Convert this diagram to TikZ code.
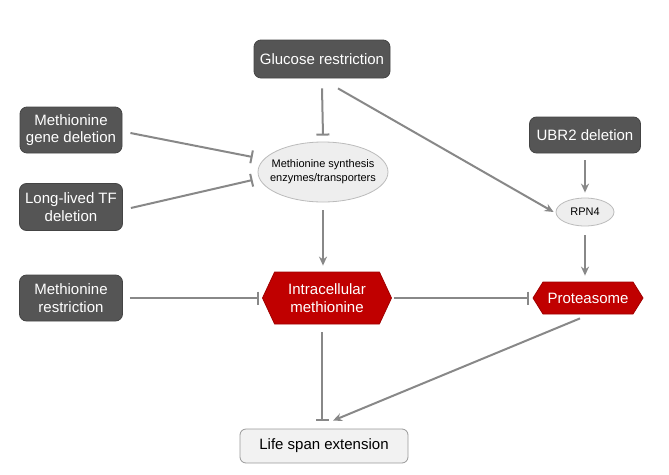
\documentclass[tikz,border=0pt]{standalone}
\usepackage{fontspec}
\setmainfont{Liberation Sans}
\usetikzlibrary{arrows.meta,shapes.geometric,shapes.symbols,calc}
\definecolor{darkbox}{HTML}{555555}
\definecolor{redbox}{HTML}{C00000}
\definecolor{redborder}{HTML}{A00000}
\definecolor{linegray}{HTML}{888888}
\definecolor{ellfill}{HTML}{EEEEEE}
\definecolor{ellborder}{HTML}{BBBBBB}
\definecolor{lsfill}{HTML}{F2F2F2}
\definecolor{lsborder}{HTML}{999999}
\tikzset{
  darknode/.style={draw=darkbox!80!black, line width=0.8pt, fill=darkbox, rounded corners=7pt, text=white,
    font=\fontsize{15}{17.5}\selectfont, align=center, inner sep=0pt},
  ellnode/.style={ellipse, draw=ellborder, line width=0.8pt, fill=ellfill, align=center, inner sep=0pt,
    font=\fontsize{11}{14}\selectfont},
  rednode/.style={signal, signal to=west and east, draw=redborder, line width=0.8pt, fill=redbox, text=white,
    align=center, inner sep=0pt, font=\fontsize{15}{17.5}\selectfont},
  lsnode/.style={draw=lsborder, line width=0.8pt, fill=lsfill, rounded corners=6pt, inner sep=0pt,
    font=\fontsize{15}{17.5}\selectfont},
  conn/.style={draw=linegray, line width=2pt},
  inhib/.style={conn, -{Bar[width=13pt,line width=2pt]}},
  activ/.style={conn, -{Stealth[length=9pt,width=8pt]}},
}
\begin{document}
\begin{tikzpicture}[x=1pt,y=-1pt]
\useasboundingbox (0,0) rectangle (669,474);
\node[darknode, minimum width=136pt, minimum height=38pt] (glu) at (322,59) {Glucose restriction};
\node[darknode, minimum width=102pt, minimum height=46pt] (mgd) at (71,130) {Methionine\\gene deletion};
\node[darknode, minimum width=103pt, minimum height=47pt] (ltf) at (71,207) {Long-lived TF\\deletion};
\node[darknode, minimum width=103pt, minimum height=46pt] (mr) at (71,298) {Methionine\\restriction};
\node[darknode, minimum width=111pt, minimum height=36pt] (ubr) at (585,135) {UBR2 deletion};
\node[ellnode, inner xsep=-8pt, minimum width=130pt, minimum height=60pt] (enz) at (323,172) {Methionine synthesis\\enzymes/transporters};
\node[ellnode, minimum width=58pt, minimum height=28pt] (rpn) at (585,212) {RPN4};
\node[rednode, minimum width=129pt, minimum height=52pt, signal pointer angle=130] (im) at (327,298) {Intracellular\\methionine};
\node[rednode, minimum width=110pt, minimum height=32pt, signal pointer angle=116] (pro) at (588,298) {Proteasome};
\node[lsnode, minimum width=168pt, minimum height=34pt] (ls) at (324,446) {Life span extension};

\draw[inhib] ($(glu.south)+(0,10)$) -- ($(enz.north)+(0,-6)$);
\draw[activ] ($(glu.south)+(16,10)$) -- ($(rpn.west)+(-2,0)$);
\draw[inhib] ($(mgd.east)+(8,3)$) -- ($(enz.west)+(-5,-15)$);
\draw[inhib] ($(ltf.east)+(8,1)$) -- ($(enz.west)+(-5,8)$);
\draw[activ] ($(enz.south)+(0,8)$) -- ($(enz.south |- im.north)+(0,-6)$);
\draw[inhib] ($(mr.east)+(7,0)$) -- ($(im.west)+(-3,0)$);
\draw[inhib] ($(im.east)+(2,0)$) -- ($(pro.west)+(-4,0)$);
\draw[activ] ($(ubr.south)+(0,7)$) -- ($(rpn.north)+(0,-5)$);
\draw[activ] ($(rpn.south)+(0,9)$) -- ($(rpn.south |- pro.north)+(0,-6)$);
\draw[inhib] ($(im.south)+(-5,8)$) -- ($(ls.north)+(-2,-8)$);
\draw[activ] ($(pro.south)+(-8,4)$) -- ($(ls.north)+(9,-8)$);
\end{tikzpicture}
\end{document}
